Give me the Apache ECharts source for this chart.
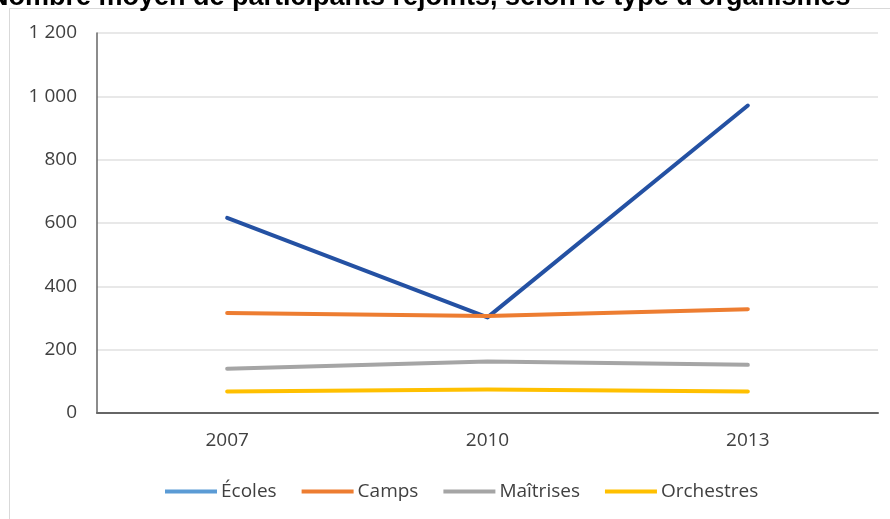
<!DOCTYPE html>
<html>
<head>
<meta charset="utf-8">
<title>Nombre moyen de participants rejoints</title>
<script src="https://cdn.jsdelivr.net/npm/echarts@6/dist/echarts.min.js"></script>
<style>
  html, body { margin: 0; padding: 0; background: #fff; }
  #chart { width: 890px; height: 519px; }
</style>
</head>
<body>
<div id="chart"></div>
<script>
// Years surveyed
const years = ['2007', '2010', '2013'];

// Average number of participants reached, by type of organisation
const ecoles = [616, 302, 971];
const camps = [316, 306, 328];
const maitrises = [140, 163, 152];
const orchestres = [68, 74, 68];

const seriesNames = ['Écoles', 'Camps', 'Maîtrises', 'Orchestres'];
const lineColors = ['#2451A3', '#ED7D31', '#A5A5A5', '#FFC000'];
const legendColors = ['#5B9BD5', '#ED7D31', '#A5A5A5', '#FFC000'];
const seriesValues = [ecoles, camps, maitrises, orchestres];

const font = 'Open Sans';

function spaceThousands(v) {
  return String(v).replace(/\B(?=(\d{3})+(?!\d))/g, ' ');
}

const chart = echarts.init(document.getElementById('chart'), null, { renderer: 'canvas' });

chart.setOption({
  backgroundColor: '#ffffff',
  animation: false,
  title: {
    text: "Nombre moyen de participants rejoints, selon le type d'organismes",
    left: -16,
    top: -21,
    textStyle: {
      fontFamily: 'Liberation Sans',
      fontWeight: 'bold',
      fontSize: 27,
      color: '#000000'
    }
  },
  graphic: [{
    type: 'rect',
    silent: true,
    z: -1,
    shape: { x: 9.5, y: 8.5, width: 900, height: 530 },
    style: { fill: null, stroke: '#D9D9D9', lineWidth: 1 }
  }],
  grid: { left: 97, right: 12, top: 33, bottom: 106, containLabel: false },
  legend: {
    left: 160,
    top: 477,
    itemWidth: 52,
    itemHeight: 4,
    itemGap: 25,
    icon: 'rect',
    textStyle: { fontFamily: font, fontSize: 19, color: '#404040', padding: [0, 0, 0, -1] },
    data: seriesNames.map((n, i) => ({
      name: n,
      itemStyle: { color: legendColors[i] }
    }))
  },
  xAxis: {
    type: 'category',
    data: years,
    boundaryGap: true,
    axisLine: { show: true, lineStyle: { color: '#666666', width: 2 } },
    axisTick: { show: false },
    axisLabel: { fontFamily: font, fontSize: 19, color: '#404040', margin: 18 },
    splitLine: { show: false }
  },
  yAxis: {
    type: 'value',
    min: 0,
    max: 1200,
    interval: 200,
    axisLine: { show: true, lineStyle: { color: '#666666', width: 1.5 } },
    axisTick: { show: false },
    axisLabel: {
      fontFamily: font, fontSize: 19, color: '#404040', margin: 20,
      formatter: spaceThousands
    },
    splitLine: { show: true, lineStyle: { color: '#E0E0E0', width: 1.5 } }
  },
  series: seriesNames.map((n, i) => ({
    name: n,
    type: 'line',
    data: seriesValues[i],
    symbol: 'none',
    smooth: false,
    itemStyle: { color: legendColors[i] },
    lineStyle: { color: lineColors[i], width: 4, cap: 'round', join: 'round' }
  }))
});
</script>
</body>
</html>
